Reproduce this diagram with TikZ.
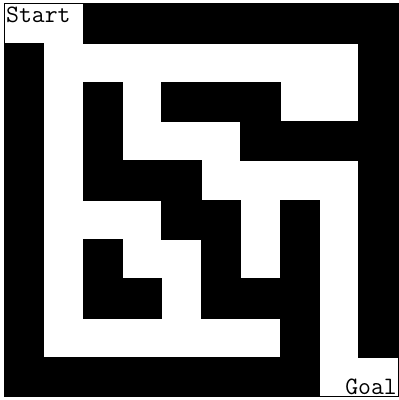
\documentclass[tikz,border=0pt]{standalone}
\usepackage{fontspec}

\tikzset{
  wall/.style={fill=black, draw=black, line width=0.5pt},
  label/.style={font=\ttfamily\fontsize{25}{25}\selectfont, inner sep=0pt}
}

\begin{document}
\begin{tikzpicture}[x=1pt, y=-1pt]
    % White background
    \fill[white] (0,0) rectangle (399,400);
    \useasboundingbox (0,0) rectangle (399,400);
    % Walls, row by row (black cells)
    \foreach \r/\cols in {0/{2,3,...,9}, 1/{0,9}, 2/{0,2,4,5,6,9},
        3/{0,2,6,7,8,9}, 4/{0,2,3,4,9}, 5/{0,4,5,7,9}, 6/{0,2,5,7,9},
        7/{0,2,3,5,6,7,9}, 8/{0,7,9}, 9/{0,1,...,7}} {
      \foreach \c in \cols {
        \draw[wall] (4+39.4*\c,3.5+39.3*\r) rectangle (4+39.4*\c+39.4,3.5+39.3*\r+39.3);
      }
    }
    % Thin outer border
    \draw[black, line width=0.8pt] (4,3.5) rectangle (398,396.5);
    % Labels
    \node[label, anchor=base west] (start) at (6,22) {Start};
    \node[label, anchor=base east] (goal) at (397,394) {Goal};
\end{tikzpicture}
\end{document}
